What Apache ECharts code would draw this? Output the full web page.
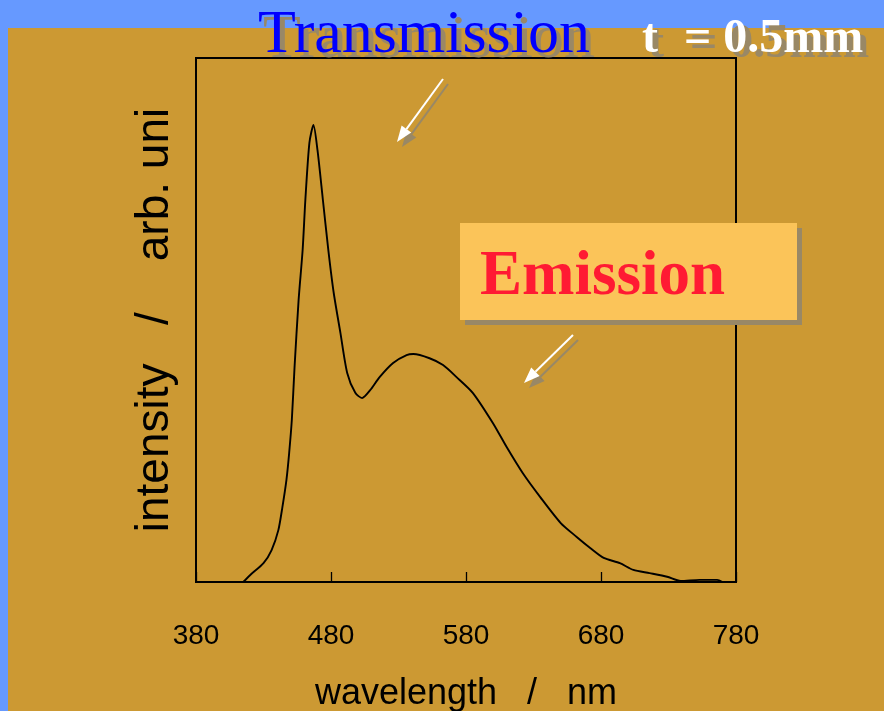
<!DOCTYPE html>
<html>
<head>
<meta charset="utf-8">
<style>
  html, body { margin: 0; padding: 0; background: #6699ff; }
  #chart { width: 884px; height: 711px; }
</style>
<script src="https://cdn.jsdelivr.net/npm/echarts@6/dist/echarts.min.js"></script>
</head>
<body>
<div id="chart"></div>
<script>
// emission spectrum (intensity in arbitrary units, 0..100 = frame)
const wavelength = [415, 420, 430, 436, 441, 444, 447, 449, 451, 453, 456, 459, 461, 464, 467, 470, 474, 478, 482, 487, 492, 498, 503, 509, 516, 526, 536, 541, 553, 563, 573, 585, 600, 610, 622, 635, 650, 662, 672, 682, 694, 704, 716, 729, 739, 753, 766, 770];
const intensity = [0, 1.3, 3.6, 6.1, 9.9, 14.3, 19.5, 24.6, 31, 41, 53.8, 63.4, 72.9, 83.8, 87.2, 82.4, 72.9, 63.4, 55.2, 47.5, 39.9, 36.1, 35.1, 36.6, 39.1, 41.8, 43.3, 43.5, 42.7, 41.4, 39.1, 36.1, 30.3, 25.8, 20.8, 16.2, 11.3, 8.6, 6.5, 4.6, 3.6, 2.3, 1.7, 1.0, 0.2, 0.4, 0.4, 0];
const xTicks = [380, 480, 580, 680, 780];

const gold = '#cc9933';
const shadow = '#998866';
const sans = '"Liberation Sans", Arial, sans-serif';
const serif = '"Liberation Serif", "Times New Roman", serif';

const chart = echarts.init(document.getElementById('chart'));

// white annotation arrow (shaft + head)
function arrow(x1, y1, x2, y2, color, dx, dy) {
  const ux = x2 - x1, uy = y2 - y1;
  const len = Math.sqrt(ux * ux + uy * uy);
  const ex = ux / len, ey = uy / len;
  const bx = x2 - 16 * ex, by = y2 - 16 * ey;
  return [
    { type: 'line', z: 100, shape: { x1: x1 + dx, y1: y1 + dy, x2: bx + dx, y2: by + dy }, style: { stroke: color, lineWidth: 2 } },
    { type: 'polygon', z: 100, shape: { points: [[x2 + dx, y2 + dy], [bx - 6 * ey + dx, by + 6 * ex + dy], [bx + 6 * ey + dx, by - 6 * ex + dy]] }, style: { fill: color } }
  ];
}

// text with a hard grey drop shadow
function shadowText(str, x, y, font, color, dx, dy) {
  return [
    { type: 'text', z: 100, left: x + dx, top: y + dy, style: { text: str, font: font, fill: shadow } },
    { type: 'text', z: 101, left: x, top: y, style: { text: str, font: font, fill: color } }
  ];
}

const graphics = [
  { type: 'rect', z: -10, shape: { x: 0, y: 0, width: 884, height: 28 }, style: { fill: '#6699ff' } },
  { type: 'rect', z: -10, shape: { x: 0, y: 0, width: 8, height: 711 }, style: { fill: '#6699ff' } },
  { type: 'rect', z: 100, shape: { x: 465, y: 228, width: 337, height: 97 }, style: { fill: shadow } },
  { type: 'rect', z: 101, shape: { x: 460, y: 223, width: 337, height: 97 }, style: { fill: '#fbc459' } },
  { type: 'text', z: 102, left: 480, top: 246, style: { text: 'Emission', font: 'bold 63px ' + serif, fill: '#ff1a33' } }
].concat(
  shadowText('Transmission', 258, 5, '62px ' + serif, '#0000ff', 5, 5),
  shadowText('t', 642, 16, 'bold 48px ' + serif, '#ffffff', 6, 5),
  shadowText('= 0.5mm', 684, 16, 'bold 48px ' + serif, '#ffffff', 6, 5),
  arrow(443, 79, 397, 142, shadow, 5, 5), arrow(443, 79, 397, 142, '#ffffff', 0, 0),
  arrow(573, 335, 524, 383, shadow, 5, 5), arrow(573, 335, 524, 383, '#ffffff', 0, 0)
);

chart.setOption({
  backgroundColor: gold,
  animation: false,
  grid: {
    left: 196, right: 148, top: 58, bottom: 129,
    outerBoundsMode: 'none',
    show: true, borderColor: '#000', borderWidth: 2, backgroundColor: 'transparent'
  },
  xAxis: {
    type: 'value',
    min: xTicks[0],
    max: xTicks[xTicks.length - 1],
    interval: 100,
    name: 'wavelength   /   nm',
    nameLocation: 'middle',
    nameGap: 94,
    nameTextStyle: { fontFamily: sans, fontSize: 36, color: '#000' },
    axisLine: { lineStyle: { color: '#000', width: 2 } },
    axisTick: { inside: true, length: 10, lineStyle: { color: '#000', width: 1.3 } },
    axisLabel: { margin: 40, fontFamily: sans, fontSize: 28, color: '#000' },
    splitLine: { show: false }
  },
  yAxis: {
    type: 'value',
    min: 0,
    max: 100,
    name: 'intensity   /    arb. uni',
    nameLocation: 'middle',
    nameRotate: 90,
    nameGap: 18,
    nameTextStyle: { fontFamily: sans, fontSize: 46, color: '#000' },
    axisLine: { show: false },
    axisTick: { show: false },
    axisLabel: { show: false },
    splitLine: { show: false }
  },
  series: [{
    type: 'line',
    data: wavelength.map((w, i) => [w, intensity[i]]),
    showSymbol: false,
    smooth: 0.25,
    lineStyle: { color: '#000', width: 1.9 }
  }],
  graphic: graphics
});
</script>
</body>
</html>
